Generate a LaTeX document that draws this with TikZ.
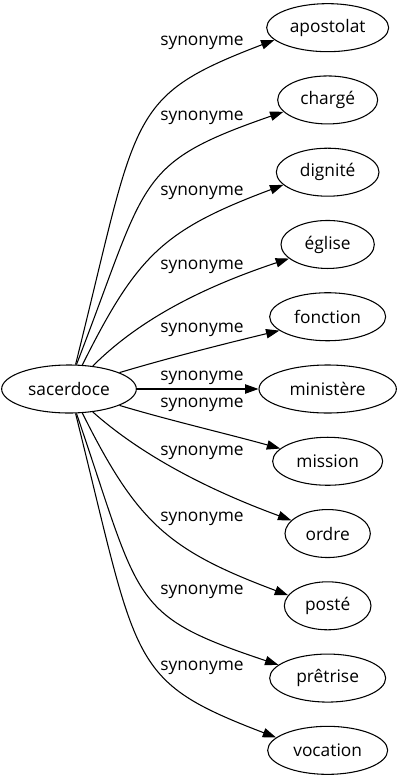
\documentclass[tikz,border=0pt]{standalone}
\usepackage{fontspec}
\setmainfont{Open Sans}
\usetikzlibrary{arrows.meta,shapes.geometric}

\begin{document}
\begin{tikzpicture}[x=0.75pt,y=-0.75pt,node distance=54.2pt,>={Triangle[length=10pt,width=7pt]},line width=0.8pt]
		\tikzstyle{word} = [ellipse, draw, minimum height=36pt, inner sep=0pt, font=\fontsize{13}{15}\selectfont]
		\tikzstyle{rel} = [inner sep=1pt, font=\fontsize{13}{15}\selectfont]
		\useasboundingbox (0,0) rectangle (402,779);
		\node (sac) [word, minimum width=101pt] at (69,389) {sacerdoce};
		\node (min) [word, minimum width=103pt, right of=sac, node distance=194pt] {ministère};
		\node (fon) [word, minimum width=87pt, above of=min] {fonction};
		\node (egl) [word, minimum width=70pt, above of=fon] {église};
		\node (dig) [word, minimum width=77pt, above of=egl] {dignité};
		\node (cha) [word, minimum width=75pt, above of=dig] {chargé};
		\node (apo) [word, minimum width=91.5pt, above of=cha] {apostolat};
		\node (mis) [word, minimum width=82.5pt, below of=min] {mission};
		\node (ord) [word, minimum width=64pt, below of=mis] {ordre};
		\node (pos) [word, minimum width=65pt, below of=ord] {posté};
		\node (pre) [word, minimum width=87pt, below of=pos] {prêtrise};
		\node (voc) [word, minimum width=90pt, below of=pre] {vocation};
		\node (l1) [rel] at (202,43) {synonyme};
		\node (l2) [rel] at (202,118) {synonyme};
		\node (l3) [rel] at (202,193) {synonyme};
		\node (l4) [rel] at (202,267) {synonyme};
		\node (l5) [rel] at (202,330) {synonyme};
		\node (l6) [rel] at (202,378) {synonyme};
		\node (l7) [rel] at (202,405) {synonyme};
		\node (l8) [rel] at (202,453) {synonyme};
		\node (l9) [rel] at (202,519) {synonyme};
		\node (l10) [rel] at (202,592) {synonyme};
		\node (l11) [rel] at (202,668) {synonyme};
		\draw[->] (sac.75) .. controls +(63,-252) and +(-149,57) .. (apo.193);
		\draw[->] (sac.73) .. controls +(72,-186) and +(-150,52) .. (cha.195);
		\draw[->] (sac.61) .. controls +(55,-110) and +(-120,45) .. (dig.196);
		\draw[->] (sac.44) .. controls +(45,-45) and +(-90,30) .. (egl.200);
		\draw[->] (sac.18) .. controls +(50,-15) and +(-50,12) .. (fon.196);
		\draw[->] (sac) -- (min);
		\draw[->] (sac.-18) .. controls +(50,15) and +(-50,-14) .. (mis.165);
		\draw[->] (sac.-44) .. controls +(45,40) and +(-90,-33) .. (ord.160);
		\draw[->] (sac.-61) .. controls +(55,110) and +(-120,-45) .. (pos.165);
		\draw[->] (sac.-73) .. controls +(65,190) and +(-150,-50) .. (pre.165);
		\draw[->] (sac.-75) .. controls +(63,252) and +(-149,-57) .. (voc.166);
	\end{tikzpicture}
\end{document}
